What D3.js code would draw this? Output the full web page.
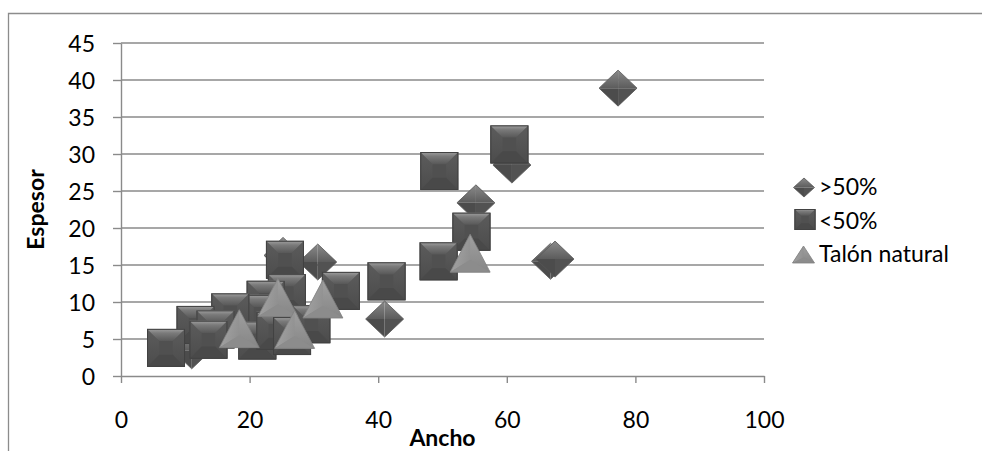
<!DOCTYPE html>
<html><head><meta charset="utf-8">
<script src="https://cdn.jsdelivr.net/npm/d3@7"></script>
<style>
html,body{margin:0;padding:0;background:#fff;}
svg{display:block;font-family:Lato,"Liberation Sans",sans-serif;}
</style></head>
<body>
<svg id="chart" width="982" height="451"></svg>
<script>
// ---- data ----
const seriesNames = [">50%", "<50%", "Talón natural"];
const over50X  = [77.3, 60.8, 55.2, 66.8, 67.5, 41.0, 30.6, 25.2, 11.0];
const over50Y  = [38.9, 28.5, 23.4, 15.5, 15.8, 7.7, 15.4, 16.3, 3.4];
const under50X = [60.4, 49.5, 54.5, 49.4, 41.3, 34.2, 25.5, 25.8, 22.5, 21.7, 17.0, 11.6, 14.7, 13.6, 7.0, 21.2, 24.0, 26.6, 29.6];
const under50Y = [31.3, 27.7, 19.5, 15.5, 12.8, 11.5, 15.7, 11.2, 10.3, 8.4, 8.6, 6.9, 6.3, 4.9, 3.8, 4.8, 6.1, 5.4, 7.0];
const talonX   = [54.3, 24.4, 31.4, 18.4, 27.0];
const talonY   = [16.6, 10.6, 10.4, 6.4, 6.3];
const xTicks = [0, 20, 40, 60, 80, 100];
const yTicks = [0, 5, 10, 15, 20, 25, 30, 35, 40, 45];
const xTitle = "Ancho", yTitle = "Espesor";

// ---- layout ----
const svg = d3.select("#chart");
const X0 = 121, X1 = 764, Y0 = 376, Y1 = 43;
const x = d3.scaleLinear().domain([0, 100]).range([X0, X1]);
const y = d3.scaleLinear().domain([0, 45]).range([Y0, Y1]);
const FS = 23;
const grid = "#8a8a8a";

// defs: gradients
const defs = svg.append("defs");
function lg(id, stops, x2, y2) {
  const g = defs.append("linearGradient").attr("id", id).attr("x1", 0).attr("y1", 0).attr("x2", x2).attr("y2", y2);
  stops.forEach(s => g.append("stop").attr("offset", s[0]).attr("stop-color", s[1]));
}
lg("sqTop", [[0, "#a0a0a0"], [0.35, "#7a7a7a"], [1, "#585858"]], 0, 1);
lg("sqSide", [[0, "#5c5c5c"], [1, "#4c4c4c"]], 0, 1);
lg("dmTop", [[0, "#8a8a8a"], [1, "#5c5c5c"]], 0, 1);
lg("trFill", [[0, "#a0a0a0"], [1, "#868686"]], 0, 1);
lg("trL", [[0, "#acacac"], [1, "#909090"]], 1, 0);

// chart border
svg.append("path").attr("d", "M8.5,451 V13.5 H982").attr("fill", "none").attr("stroke", "#8c8c8c").attr("stroke-width", 1.3);

// gridlines
svg.append("g").selectAll("line").data(yTicks.filter(v => v > 0)).join("line")
  .attr("x1", X0).attr("x2", X1).attr("y1", d => y(d)).attr("y2", d => y(d))
  .attr("stroke", grid).attr("stroke-width", 1.4);

// axes
const ya = svg.append("g").attr("transform", `translate(${X0},0)`)
  .call(d3.axisLeft(y).tickValues(yTicks).tickSize(8).tickPadding(18).tickSizeOuter(0));
const xa = svg.append("g").attr("transform", `translate(0,${Y0})`)
  .call(d3.axisBottom(x).tickValues(xTicks).tickSize(7).tickPadding(10).tickSizeOuter(0));
[ya, xa].forEach(a => {
  a.select(".domain").attr("stroke", grid).attr("stroke-width", 1.4);
  a.selectAll(".tick line").attr("stroke", grid).attr("stroke-width", 1.4);
  a.selectAll("text").attr("font-family", "Lato").attr("font-size", FS).attr("fill", "#000");
});
ya.selectAll("text").attr("dy", "0.36em");
xa.selectAll("text").attr("y", 52).attr("dy", 0);

// axis titles
svg.append("text").attr("transform", `translate(44,${(Y0 + Y1) / 2}) rotate(-90)`)
  .attr("text-anchor", "middle").attr("font-size", FS).attr("font-weight", "bold").text(yTitle);
svg.append("text").attr("x", (X0 + X1) / 2).attr("y", 446)
  .attr("text-anchor", "middle").attr("font-size", FS).attr("font-weight", "bold").text(xTitle);

// marker drawers
function square(g, S) {
  const h = S / 2, b = S * 0.32;
  g.append("rect").attr("x", -h).attr("y", -h).attr("width", S).attr("height", S).attr("fill", "#505050");
  g.append("polygon").attr("points", [[-h, -h], [-h + b, -h + b], [-h + b, h - b], [-h, h]].join(" ")).attr("fill", "url(#sqSide)");
  g.append("polygon").attr("points", [[h, -h], [h - b, -h + b], [h - b, h - b], [h, h]].join(" ")).attr("fill", "url(#sqSide)");
  g.append("polygon").attr("points", [[-h, h], [-h + b, h - b], [h - b, h - b], [h, h]].join(" ")).attr("fill", "#494949");
  g.append("polygon").attr("points", [[-h, -h], [h, -h], [h - b, -h + b], [-h + b, -h + b]].join(" ")).attr("fill", "url(#sqTop)");
  g.append("rect").attr("x", -h + 0.5).attr("y", -h + 0.5).attr("width", S - 1).attr("height", S - 1)
    .attr("fill", "none").attr("stroke", "#424242").attr("stroke-width", 1);
}
function diamond(g, W, H) {
  const w = W / 2, hh = H / 2;
  g.append("polygon").attr("points", [[-w, 0], [0, -hh], [0, 0]].join(" ")).attr("fill", "url(#dmTop)");
  g.append("polygon").attr("points", [[w, 0], [0, -hh], [0, 0]].join(" ")).attr("fill", "url(#dmTop)");
  g.append("polygon").attr("points", [[-w, 0], [0, hh], [0, 0]].join(" ")).attr("fill", "#4c4c4c");
  g.append("polygon").attr("points", [[w, 0], [0, hh], [0, 0]].join(" ")).attr("fill", "#525252");
  g.append("polygon").attr("points", [[-w, 0], [0, -hh], [w, 0], [0, hh]].join(" "))
    .attr("fill", "none").attr("stroke", "#555").attr("stroke-width", 0.8);
}
function triangle(g, W, H) {
  const w = W / 2, hh = H / 2;
  g.append("polygon").attr("points", [[0, -hh], [-w, hh], [w, hh]].join(" ")).attr("fill", "url(#trFill)");
  g.append("polygon").attr("points", [[0, -hh], [-w, hh], [0, hh * 0.35]].join(" ")).attr("fill", "url(#trL)").attr("opacity", 0.7);
  g.append("polygon").attr("points", [[-w, hh], [w, hh], [0, hh * 0.35]].join(" ")).attr("fill", "#8c8c8c");
  g.append("polygon").attr("points", [[0, -hh], [-w, hh], [w, hh]].join(" "))
    .attr("fill", "none").attr("stroke", "#808080").attr("stroke-width", 0.8);
}

// series
const over = over50X.map((v, i) => ({x: v, y: over50Y[i]}));
const under = under50X.map((v, i) => ({x: v, y: under50Y[i]}));
const talon = talonX.map((v, i) => ({x: v, y: talonY[i]}));

svg.append("g").selectAll("g").data(over).join("g")
  .attr("transform", d => `translate(${x(d.x)},${y(d.y)})`).each(function () { diamond(d3.select(this), 38, 36); });
svg.append("g").selectAll("g").data(under).join("g")
  .attr("transform", d => `translate(${x(d.x)},${y(d.y)})`).each(function () { square(d3.select(this), 38); });
svg.append("g").selectAll("g").data(talon).join("g")
  .attr("transform", d => `translate(${x(d.x)},${y(d.y)})`).each(function () { triangle(d3.select(this), 40, 38); });

// legend
const lgItems = [
  {name: seriesNames[0], mx: 804, my: 187.5, ty: 194.5, draw: g => diamond(g, 21, 19)},
  {name: seriesNames[1], mx: 805, my: 219.5, ty: 228.5, draw: g => square(g, 21)},
  {name: seriesNames[2], mx: 803.5, my: 254.5, ty: 261.5, draw: g => triangle(g, 22, 17)}
];
const leg = svg.append("g");
lgItems.forEach(it => {
  const g = leg.append("g").attr("transform", `translate(${it.mx},${it.my})`);
  it.draw(g);
  leg.append("text").attr("x", 819).attr("y", it.ty).attr("font-size", FS).attr("fill", "#000").text(it.name);
});
</script>
</body></html>
